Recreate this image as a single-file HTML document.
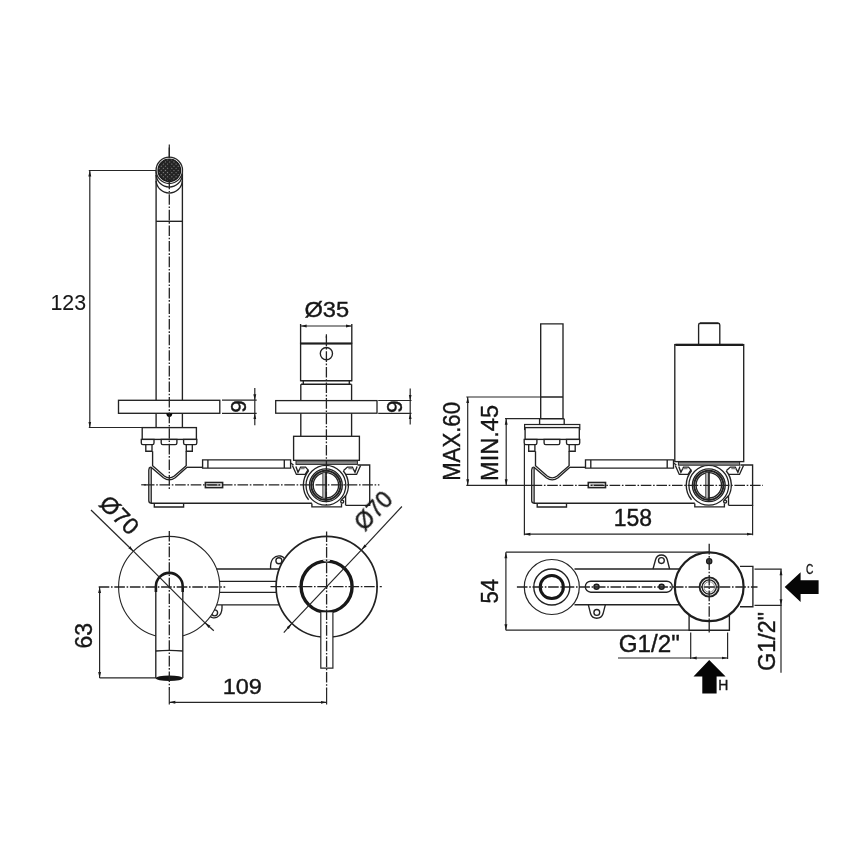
<!DOCTYPE html>
<html>
<head>
<meta charset="utf-8">
<title>Technical drawing</title>
<style>
html,body{margin:0;padding:0;background:#fff;}
body{width:868px;height:868px;overflow:hidden;}
svg{display:block;filter:blur(0.4px);}
svg text{font-family:"Liberation Sans",sans-serif;fill:#161616;stroke:#161616;stroke-width:0.4;}
#txt{opacity:0.999;}
.l{stroke:#222;stroke-width:1.35;fill:none;}
.w{stroke:#222;stroke-width:1.35;fill:#fff;}
.k{stroke:#1e1e1e;stroke-width:1.7;fill:none;}
.d{stroke:#262626;stroke-width:1.2;fill:none;}
.c{stroke:#222;stroke-width:1.3;fill:none;stroke-dasharray:10.6 1.7 1.6 1.7;}
.f{fill:#060606;stroke:none;}
.g{stroke:#808080;fill:none;}
</style>
</head>
<body>
<svg width="868" height="868" viewBox="0 0 868 868">
<defs>
<marker id="a" markerWidth="7" markerHeight="4" refX="6" refY="2" orient="auto" markerUnits="userSpaceOnUse"><path d="M0,0.55 L6,2 L0,3.45 Z" fill="#1a1a1a"/></marker>
<marker id="b" markerWidth="7" markerHeight="4" refX="0" refY="2" orient="auto" markerUnits="userSpaceOnUse"><path d="M6,0.55 L0,2 L6,3.45 Z" fill="#1a1a1a"/></marker>
<pattern id="mesh" width="3" height="3" patternUnits="userSpaceOnUse" patternTransform="rotate(45)"><rect width="3" height="3" fill="#222"/><rect x="0" y="0" width="1.1" height="1.1" fill="#8a8a8a"/></pattern>

<g id="body">
<!-- mounting block -->
<rect class="w" x="142.2" y="427.6" width="54.2" height="11.8"/>
<path class="l" d="M141.3,439.4 H154 V443 Q154,444.6 152.4,444.6 H142.9 Q141.3,444.6 141.3,443 Z"/>
<path class="l" d="M161.2,439.4 H176.9 V443 Q176.9,444.6 175.3,444.6 H162.8 Q161.2,444.6 161.2,443 Z"/>
<path class="l" d="M183.6,439.4 H196.8 V443 Q196.8,444.6 195.2,444.6 H185.2 Q183.6,444.6 183.6,443 Z"/>
<path class="l" d="M145.8,444.6 V451.2 H152 V444.6 M186.3,444.6 V451.2 H192.3 V444.6"/>
<!-- funnel -->
<path class="l" d="M152.6,451.2 V465.8 L164.3,476 Q169.3,479.8 174.3,476 L186.2,465.8 V451.2"/>
<path class="l" d="M150.8,467 L163.4,477.8 Q169.3,482 175.2,477.8 L187,467.3"/>
<!-- body outline -->
<path class="l" d="M150.8,467 Q148.8,467.6 148.8,470 V500.6 Q148.8,503.2 151.2,503.2 H311.9"/>
<path class="l" d="M151.2,468 V503"/>
<path class="l" d="M187,467.3 H202.6"/>
<path class="l" d="M154.3,503.2 V507 H183.6 V503.2"/>
<!-- rod -->
<path class="l" d="M290.6,459.8 H202.6 V468.1 H290.6 Z M207.9,459.8 V468.1 M284.3,459.8 V468.1"/>
<path class="l" d="M290.6,463 L293.5,465"/>
<!-- small rect on axis -->
<rect class="w" x="205.4" y="482.5" width="17.2" height="5.1" style="stroke-width:1.6"/>
<path class="g" d="M207.5,485.05 H220.5" style="stroke-width:1.6"/>
<!-- right body -->
<path class="l" d="M357.5,465 H369.7 V505.4 H345.6"/>
<!-- clips -->
<path class="l" d="M292.4,465.4 L296.4,474.4 H305.2 L308.2,469.6"/>
<path class="l" d="M295.9,466.4 L298,472.2 L300.6,467.1 H305.6 L308.6,470.6"/>
<path class="l" d="M360.6,465.4 L356.6,474.4 H345.2"/>
<path class="l" d="M357.1,466.4 L355,472.2 L352.4,467.1 H347.4 L343.6,470.6"/>
<path class="g" d="M299.6,468.6 H304.6 M353.4,468.6 H348.4" style="stroke-width:1.4"/>
<!-- fitting -->
<circle cx="325.9" cy="485.3" r="19.9" fill="#fff" stroke="#222" stroke-width="1.3"/>
<path class="l" d="M308.6,470.8 A22.6,22.6 0 0 0 308.6,499.8"/>
<path class="l" d="M343.2,470.8 A22.6,22.6 0 0 1 344.8,497.5"/>
<circle class="l" cx="325.9" cy="485.3" r="16.4"/>
<circle cx="325.9" cy="485.3" r="14.6" fill="none" stroke="#222" stroke-width="2"/>
<circle class="l" cx="325.9" cy="485.3" r="12.7"/>
<rect x="322.8" y="472.4" width="3.2" height="25.8" fill="#b5b5b5" stroke="#3a3a3a" stroke-width="0.8"/>
<path d="M326.1,471.5 V499" stroke="#1c1c1c" stroke-width="1.5" fill="none"/>
<!-- foot + lug -->
<path class="l" d="M311.9,503.4 V506.9 H341.5 V503.4"/>
<path class="l" d="M345.6,495.6 V505.2 M345.6,495.6 L341.5,500"/>
<circle class="l" cx="342.2" cy="501.6" r="1.5"/>
</g>

</defs>
<rect x="0" y="0" width="868" height="868" fill="#fff"/>

<!-- ================= VIEW 1 : front view (upper left) ================= -->
<g id="v1">
<!-- spout tube -->
<path class="l" d="M156.1,171 V427.6 M182.4,171 V427.6"/>
<path class="l" d="M156.1,221.3 H182.4"/>
<path class="l" d="M156.1,175 A13.2,13.2 0 0 0 182.4,175"/>
<path class="l" d="M156.1,181 A13.2,13.2 0 0 0 182.4,181"/>
<circle cx="169.3" cy="170.3" r="13.2" fill="#fff" stroke="#262626" stroke-width="1.3"/>
<circle cx="169.3" cy="170.3" r="11.3" fill="url(#mesh)" stroke="#1a1a1a" stroke-width="1.2"/>
<!-- flange plate -->
<rect class="w" x="118.5" y="400.3" width="101.3" height="13"/>
<path class="f" d="M166.3,413.3 A3,3.6 0 0 0 172.3,413.3 Z"/>
<use href="#body"/>
</g>

<!-- valve (front view) -->
<g id="v1b">
<path class="l" d="M300.6,324 V343.5 M351.8,324 V343.5"/>
<path class="d" d="M300.6,326 H351.8" marker-start="url(#b)" marker-end="url(#a)"/>
<rect class="w" x="300.6" y="343.5" width="51.2" height="37.2"/>
<path class="k" d="M300.6,343.5 H351.8" style="stroke-width:2"/>
<path class="l" d="M300.6,380.6 H351.8 M303.3,380.6 V384 M349.3,380.6 V384"/>
<path class="k" d="M301,384.3 H351.4" style="stroke-width:1.5"/>
<path class="l" d="M300.8,384.3 V436.3 M351.6,384.3 V436.3"/>
<circle class="l" cx="326.4" cy="353.6" r="6.1"/>
<rect class="w" x="275.7" y="400.6" width="101.3" height="12.6" style="stroke-width:1.3"/>
<rect class="w" x="293.6" y="436.3" width="65.8" height="24"/>
<!-- seal band -->
<rect x="296" y="460.8" width="61.4" height="3.6" fill="#8c8c8c" stroke="#262626" stroke-width="1"/>
</g>

<!-- centerlines view 1 -->
<g id="v1c">
<path class="d" d="M169.3,144.4 V157"/>
<path class="c" d="M169.3,147.4 V490.3" />
<path class="d" d="M326.4,334.2 V338"/>
<path class="c" d="M326.4,335.7 V505"/>
<path class="d" d="M141.2,484.8 H146"/>
<path class="c" d="M143.9,484.8 H379.4"/>
</g>

<!-- dims view 1 -->
<g id="v1d">
<path class="d" d="M88.8,170.5 H156 M88.8,427.5 H142"/>
<path class="d" d="M89.8,170.5 V427.5" marker-start="url(#b)" marker-end="url(#a)"/>
<path class="d" d="M222,400.2 H256.7 M222,413.3 H256.7" style="stroke-width:1.2"/>
<path class="d" d="M254.8,388 V400.2" marker-end="url(#a)"/>
<path class="d" d="M254.8,425.3 V413.3" marker-end="url(#a)"/>
<path class="d" d="M254.8,400.2 V413.3"/>
<path class="d" d="M378.2,400.5 H411.5 M378.2,413.4 H411.5" style="stroke-width:1.2"/>
<path class="d" d="M410.2,388.6 V400.5" marker-end="url(#a)"/>
<path class="d" d="M410.2,424.6 V413.4" marker-end="url(#a)"/>
<path class="d" d="M410.2,400.6 V413.1"/>
</g>

<!-- ================= VIEW 2 : top view (lower left) ================= -->
<g id="v2">
<!-- connecting bars -->
<path class="l" d="M216,569 H280 M219.5,581.3 H276 M219.5,592.3 H276 M217,604.9 H279"/>
<!-- lugs -->
<path class="l" d="M270.6,569 Q270.2,562 273,558.6 Q276,555.2 280.5,556 Q283,556.6 284.6,558.6"/>
<circle class="l" cx="278.9" cy="560.7" r="3"/>
<path class="l" d="M222,605 Q222.5,612 219.5,615.4 Q216.5,618.6 212.5,617.7 Q211,617.3 210,616.2"/>
<circle class="l" cx="214.6" cy="612.8" r="3"/>
<!-- left flange -->
<circle cx="169.2" cy="587" r="50.6" fill="#fff" stroke="#262626" stroke-width="1.1"/>
<!-- right flange -->
<circle cx="326.6" cy="586.8" r="50.5" fill="#fff" stroke="#222" stroke-width="1.7"/>
<circle cx="326.6" cy="586.6" r="25.5" fill="#fff" stroke="#181818" stroke-width="3.4"/>
<ellipse cx="326.6" cy="560.4" rx="3.4" ry="1.1" fill="#e8e8e8"/>
<!-- handle -->
<path d="M320.8,612.3 V668.2 H332.9 V612.3" fill="#fff" stroke="#262626" stroke-width="1.2"/>
<!-- spout top view -->
<path d="M155.8,678 V586.5 A13.5,13.5 0 0 1 182.8,586.5 V678 Z" fill="#fff" stroke="none"/>
<path class="l" d="M155.8,590 V678 M182.8,590 V678"/>
<path d="M155.9,592 V586.3 A13.4,13.4 0 0 1 182.7,586.3 V592" fill="none" stroke="#181818" stroke-width="2.6"/>
<path class="l" d="M155.8,651 Q169.3,649.6 182.8,651"/>
<ellipse cx="169.3" cy="678.2" rx="13.6" ry="2.8" fill="#141414"/>
</g>
<g id="v2c">
<path class="c" d="M98.7,587 H225.2"/>
<path class="c" d="M270.5,586.6 H381.8"/>
<path class="c" d="M169.3,531 V690"/>
<path class="c" d="M326.6,531.5 V690"/>
</g>
<g id="v2d">
<!-- diag dims -->
<path class="d" d="M91,510 L133.4,551.2" marker-end="url(#a)"/>
<path class="d" d="M213.8,630.7 L205,622.8" marker-end="url(#a)"/>
<path class="d" d="M133.4,551.2 L205,622.8"/>
<path class="d" d="M401.9,506.5 L361.5,549.8" marker-end="url(#a)"/>
<path class="d" d="M283.8,632.6 L291.7,623.6" marker-end="url(#a)"/>
<path class="d" d="M361.5,549.8 L291.7,623.6"/>
<!-- 63 -->
<path class="d" d="M99.6,587 V677.9" marker-start="url(#b)" marker-end="url(#a)"/>
<path class="d" d="M99.6,677.9 H156"/>
<!-- 109 -->
<path class="d" d="M169.3,690 V704.4 M326.6,690 V704.4"/>
<path class="d" d="M169.3,702.3 H326.6" marker-start="url(#b)" marker-end="url(#a)"/>
</g>

<!-- ================= VIEW 3 : side view (upper right) ================= -->
<g id="v3">
<!-- spout tube side -->
<path class="l" d="M540.7,418.7 V323.8 H563 V418.7"/>
<path class="l" d="M539.6,418.7 V424.3 M564.2,418.7 V424.3 M540.7,397 H563 M539.6,418.7 H564.2"/>
<rect class="w" x="524.6" y="424.5" width="55.2" height="5" style="stroke-width:1.2"/>
<use href="#body" x="382.9"/>
<!-- cartridge box -->
<path class="w" d="M698.6,344.6 V325 Q698.6,323.2 700.4,323.2 H718 Q719.8,323.2 719.8,325 V344.6"/>
<path class="k" d="M700,323.3 H718.4"/>
<rect class="w" x="674.8" y="344.6" width="68.9" height="117"/>
<path d="M675.5,344.8 H743" stroke="#1c1c1c" stroke-width="2.2" fill="none"/>
<!-- seal band -->
<rect x="678.4" y="462" width="61.2" height="3.2" fill="#8c8c8c" stroke="#262626" stroke-width="1"/>
</g>
<g id="v3c">
<path class="c" d="M531.6,485.3 H763"/>
</g>
<g id="v3d">
<path class="d" d="M466.3,397 H540.7 M505,418.7 H540 M466.3,485.3 H531.6"/>
<path class="d" d="M467.7,397 V485.3" marker-start="url(#b)" marker-end="url(#a)"/>
<path class="d" d="M506.2,418.7 V485.3" marker-start="url(#b)" marker-end="url(#a)"/>
<path class="d" d="M524.4,444 V535.3 M752.6,505.2 V535.3"/>
<path class="d" d="M524.4,534.2 H752.6" marker-start="url(#b)" marker-end="url(#a)"/>
</g>

<!-- ================= VIEW 4 : bottom view (lower right) ================= -->
<g id="v4">
<path class="l" d="M574.5,569 H680 M574.5,604.7 H680"/>
<!-- lugs -->
<path class="l" d="M653,569 L655.6,559.5 Q657,555 661.4,555 Q665.8,555 667.2,559.5 L669.6,569"/>
<circle class="l" cx="661.4" cy="560.6" r="2.9"/>
<path class="l" d="M588.3,604.7 L590.6,613.8 Q592,618.2 596.8,618.2 Q601.6,618.2 603,613.8 L605.4,604.7"/>
<circle class="l" cx="596.8" cy="612.4" r="2.9"/>
<!-- slot -->
<rect class="l" x="585.3" y="581.2" width="87" height="11" rx="5.5"/>
<circle cx="596.5" cy="586.8" r="2.5" fill="#777" stroke="#1a1a1a" stroke-width="1.5"/>
<circle cx="661.6" cy="586.8" r="2.5" fill="#777" stroke="#1a1a1a" stroke-width="1.5"/>
<!-- left rings -->
<circle cx="551.8" cy="587" r="27.5" fill="#fff" stroke="#262626" stroke-width="1.2"/>
<circle class="l" cx="551.8" cy="587" r="18"/>
<circle cx="551.8" cy="587" r="11.6" fill="none" stroke="#161616" stroke-width="3"/>
<!-- outlet boxes -->
<path class="l" d="M740,566.4 H752.9 V606.7 H740"/>
<path class="l" d="M689.1,612 V630.2 H729.4 V612"/>
<!-- big circle -->
<circle cx="709.2" cy="586.8" r="34.4" fill="#fff" stroke="#1e1e1e" stroke-width="2.2"/>
<circle cx="709.2" cy="587" r="9.6" fill="none" stroke="#222" stroke-width="1.9"/>
<circle class="l" cx="709.2" cy="587" r="7.1"/>
<circle cx="709.2" cy="587" r="5.3" fill="none" stroke="#777" stroke-width="0.8"/>
<circle cx="709.2" cy="561.2" r="2.6" fill="#4a4a4a" stroke="#1a1a1a" stroke-width="1.3"/>
</g>
<g id="v4c">
<path class="c" d="M516.9,587 H757.5"/>
<path class="c" d="M709.2,543.8 V632.5"/>
</g>
<g id="v4d">
<path class="d" d="M505.9,552.2 H709 M505.9,630.2 H689"/>
<path class="d" d="M505.9,552.2 V630.2" marker-start="url(#b)" marker-end="url(#a)"/>
<path class="d" d="M690.7,632.5 V659 M727.6,632.5 V659"/>
<path class="d" d="M618,658 H690.7"/>
<path class="d" d="M690.7,658 H727.6" marker-start="url(#b)" marker-end="url(#a)"/>
<path class="d" d="M754.5,569.2 H781.7 M754.5,605.3 H781.7"/>
<path class="d" d="M781,569.2 V605.3" marker-start="url(#b)" marker-end="url(#a)"/>
<path class="d" d="M781,605.3 V672.7"/>
<!-- arrows -->
<path class="f" d="M784.7,586.9 L800.6,572.2 V580.2 H818.6 V594.1 H800.6 V602.1 Z"/>
<path class="f" d="M709.2,660.1 L725.6,676.6 H716.6 V693.4 H702.3 V676.6 H693.5 Z"/>
</g>
<g id="txt">
<text transform="translate(68.65,302.25) rotate(0) scale(0.942,1)" x="-19.27" y="7.82" font-size="22.68" style="stroke-width:0.1">123</text>
<text transform="translate(326.65,309.50) rotate(0) scale(1.036,1)" x="-21.50" y="7.87" font-size="22.82">Ø35</text>
<text transform="translate(238.45,406.60) rotate(-90) scale(0.984,1)" x="-6.37" y="7.92" font-size="22.96">9</text>
<text transform="translate(393.70,406.70) rotate(-90) scale(0.984,1)" x="-6.37" y="7.92" font-size="22.96">9</text>
<text transform="translate(119.40,514.90) rotate(45) scale(1.026,1)" x="-21.77" y="7.97" font-size="23.10">Ø70</text>
<text transform="translate(373.50,510.90) rotate(-46.5) scale(0.992,1)" x="-21.77" y="7.97" font-size="23.10">Ø70</text>
<text transform="translate(83.60,635.70) rotate(-90) scale(0.947,1)" x="-13.57" y="8.36" font-size="24.23">63</text>
<text transform="translate(242.65,686.45) rotate(0) scale(1.049,1)" x="-18.98" y="7.73" font-size="22.39">109</text>
<text transform="translate(451.50,440.95) rotate(-90) scale(0.932,1)" x="-42.85" y="8.21" font-size="23.80">MAX.60</text>
<text transform="translate(489.40,442.50) rotate(-90) scale(0.975,1)" x="-39.49" y="8.36" font-size="24.23">MIN.45</text>
<text transform="translate(633.30,517.80) rotate(0) scale(0.971,1)" x="-20.11" y="8.16" font-size="23.66">158</text>
<text transform="translate(489.60,591.00) rotate(-90) scale(0.916,1)" x="-13.63" y="8.36" font-size="24.23">54</text>
<text transform="translate(649.35,643.50) rotate(0) scale(1.037,1)" x="-29.58" y="8.07" font-size="23.38">G1/2&quot;</text>
<text transform="translate(767.00,641.35) rotate(-90) scale(0.978,1)" x="-30.29" y="8.26" font-size="23.94">G1/2&quot;</text>
<text transform="translate(809.60,569.15) rotate(0) scale(0.714,1)" x="-5.19" y="4.91" font-size="14.23">C</text>
<text transform="translate(723.30,684.55) rotate(0) scale(0.960,1)" x="-5.22" y="5.00" font-size="14.51">H</text>
</g>
</svg>
</body>
</html>
